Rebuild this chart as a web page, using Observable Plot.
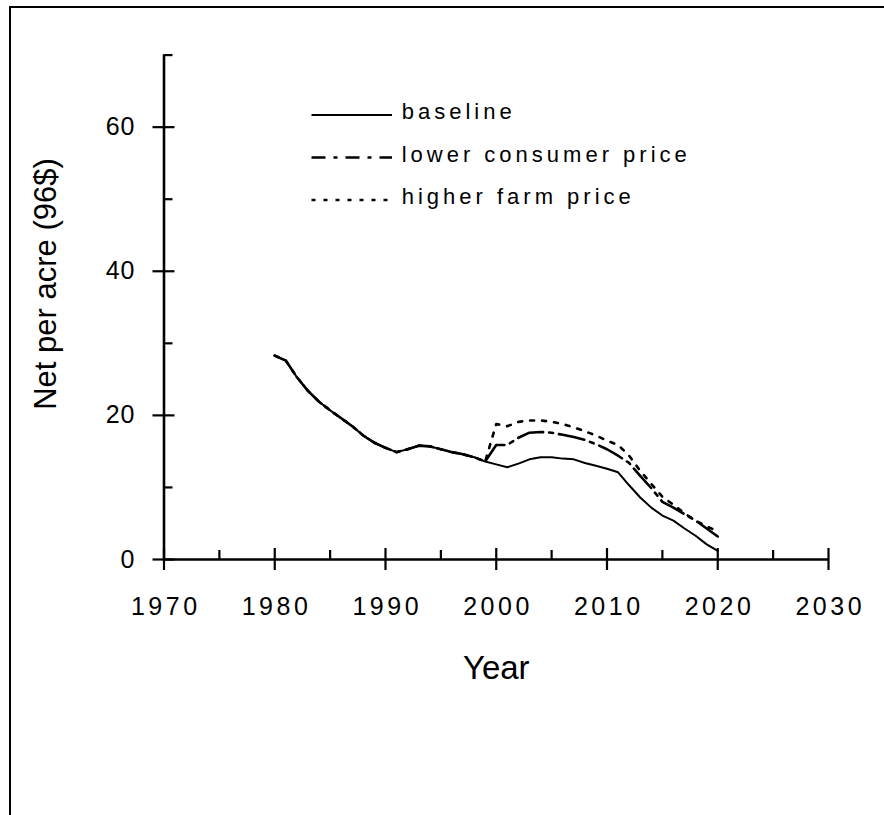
<!DOCTYPE html>
<html>
<head>
<meta charset="utf-8">
<script src="https://cdn.jsdelivr.net/npm/d3@7"></script>
<script src="https://cdn.jsdelivr.net/npm/@observablehq/plot@0.6"></script>
<style>
html, body { margin: 0; padding: 0; background: #fff; overflow: hidden; }
#wrap { position: relative; width: 884px; height: 815px; overflow: hidden; font-family: "Liberation Sans", Arial, sans-serif; }
#frame { position: absolute; left: 9px; top: 6px; width: 2000px; height: 2000px; border-left: 2px solid #000; border-top: 2px solid #000; box-sizing: border-box; }
#chart { position: absolute; left: 0; top: 0; }
#legend { position: absolute; left: 0; top: 0; pointer-events: none; }
#chart svg g[aria-label="x-axis tick label"] text { letter-spacing: 3.5px; }
#chart svg g[aria-label="y-axis tick label"] text { letter-spacing: 1px; }
#chart svg g[aria-label="ytitle"] text { letter-spacing: 0.7px; }
#chart svg g[aria-label="xtitle"] text { letter-spacing: 1.5px; }
</style>
</head>
<body>
<div id="wrap">
  <div id="frame"></div>
  <div id="chart"></div>
  <svg id="legend" width="884" height="815"></svg>
</div>
<script>
// ---- data ----
const years = [1980,1981,1982,1983,1984,1985,1986,1987,1988,1989,
               1990,1991,1992,1993,1994,1995,1996,1997,1998,1999,
               2000,2001,2002,2003,2004,2005,2006,2007,2008,2009,
               2010,2011,2012,2013,2014,2015,2016,2017,2018,2019,2020];
const baseline = [28.3,27.6,25.3,23.4,21.9,20.7,19.6,18.5,17.2,16.2,
                  15.5,14.9,15.3,15.8,15.7,15.3,14.9,14.6,14.2,13.6,
                  13.2,12.8,13.3,13.9,14.2,14.2,14.0,13.9,13.4,13.0,
                  12.6,12.1,10.3,8.6,7.2,6.1,5.4,4.3,3.3,2.1,1.2];
const lowerConsumer = [28.3,27.6,25.3,23.4,21.9,20.7,19.6,18.5,17.2,16.2,
                  15.5,14.9,15.3,15.8,15.7,15.3,14.9,14.6,14.2,13.6,
                  15.9,15.9,16.9,17.6,17.7,17.6,17.3,17.0,16.6,16.0,
                  15.3,14.4,13.4,11.6,9.9,8.0,7.2,6.3,5.4,4.3,3.2];
const higherFarm = [28.3,27.6,25.3,23.4,21.9,20.7,19.6,18.5,17.2,16.2,
                  15.5,14.9,15.3,15.8,15.7,15.3,14.9,14.6,14.2,13.6,
                  18.8,18.5,19.1,19.3,19.3,19.1,18.8,18.35,17.8,17.2,
                  16.5,15.9,14.4,12.3,10.5,8.7,7.6,6.4,5.4,4.6,3.9];
const seriesNames = ["baseline", "lower consumer price", "higher farm price"];
const xMajorTicks = [1970,1980,1990,2000,2010,2020,2030];
const xMinorTicks = [1975,1985,1995,2005,2015,2025];
const xTickLabels = ["1970","1980","1990","2000","2010","2020","2030"];
const yMajorTicks = [0,20,40,60];
const yMinorTicks = [10,30,50,70];
const yTickLabels = ["0","20","40","60"];
const xTitle = "Year";
const yTitle = "Net per acre (96$)";

// ---- styles ----
const styles = [
  {width: 2.0, dash: null, legendDash: null},
  {width: 2.6, dash: "26,6,4,6", legendDash: "14,8,4,8"},
  {width: 2.6, dash: "4,8", legendDash: "4,8"}
];
const seriesValues = [baseline, lowerConsumer, higherFarm];
const rows = seriesValues.map(vals => years.map((year, i) => ({year, value: vals[i]})));

const plot = Plot.plot({
  width: 884,
  height: 815,
  marginLeft: 163.5,
  marginRight: 56,
  marginTop: 54.6,
  marginBottom: 256,
  style: {fontFamily: "'Liberation Sans', Arial, sans-serif", color: "#000", background: "transparent"},
  x: {domain: [1970, 2030]},
  y: {domain: [0, 70]},
  marks: [
    // axis lines
    Plot.ruleX([1970], {stroke: "#000", strokeWidth: 2.6}),
    Plot.ruleY([0], {stroke: "#000", strokeWidth: 2.6}),
    // x ticks: majors cross the axis, minors point inward
    Plot.axisX({ticks: xMajorTicks, tickSize: 22, dy: -11, text: null, label: null, strokeWidth: 2.2}),
    Plot.axisX({ticks: xMinorTicks, tickSize: 9, dy: -9, text: null, label: null, strokeWidth: 2.2}),
    Plot.axisX({ticks: xMajorTicks, tickSize: 0, tickPadding: 37.5, dx: 1.75, fontSize: 25, label: null,
                tickFormat: (d) => xTickLabels[xMajorTicks.indexOf(d)]}),
    // y ticks
    Plot.axisY({ticks: yMajorTicks, tickSize: 22, dx: 11, text: null, label: null, strokeWidth: 2.2}),
    Plot.axisY({ticks: yMinorTicks, tickSize: 9, dx: 9, text: null, label: null, strokeWidth: 2.2}),
    Plot.axisY({ticks: yMajorTicks, tickSize: 0, tickPadding: 28.5, fontSize: 25, label: null,
                tickFormat: (d) => yTickLabels[yMajorTicks.indexOf(d)]}),
    // titles
    Plot.text([yTitle], {text: d => d, frameAnchor: "left", textAnchor: "middle", lineAnchor: "middle",
                         rotate: -90, dx: -118.4, dy: -23.3,
                         fontSize: 31, fill: "#000", ariaLabel: "ytitle"}),
    Plot.text([xTitle], {text: d => d, frameAnchor: "bottom", textAnchor: "middle", lineAnchor: "middle",
                         dy: 108.8, fontSize: 33, fill: "#000", ariaLabel: "xtitle"}),
    // series
    ...rows.map((data, k) => Plot.line(data, {
      x: "year", y: "value", stroke: "#000",
      strokeWidth: styles[k].width,
      strokeDasharray: styles[k].dash || undefined,
      strokeLinejoin: "round"
    }))
  ]
});
document.getElementById("chart").appendChild(plot);

// ---- legend ----
const lg = d3.select("#legend");
const legendX1 = 311.5, legendX2 = 392, legendTextX = 401.7, legendY0 = 115, legendStep = 42.5;
seriesNames.forEach((name, k) => {
  const y = legendY0 + k * legendStep;
  lg.append("line")
    .attr("x1", legendX1).attr("x2", legendX2).attr("y1", y).attr("y2", y)
    .attr("stroke", "#000").attr("stroke-width", k === 0 ? 2 : 2.7)
    .attr("stroke-dasharray", styles[k].legendDash);
  lg.append("text")
    .attr("x", legendTextX).attr("y", y + 4)
    .attr("font-family", "'Liberation Sans', Arial, sans-serif")
    .attr("font-size", 22)
    .attr("letter-spacing", "4px")
    .attr("fill", "#000")
    .text(name);
});
</script>
</body>
</html>
